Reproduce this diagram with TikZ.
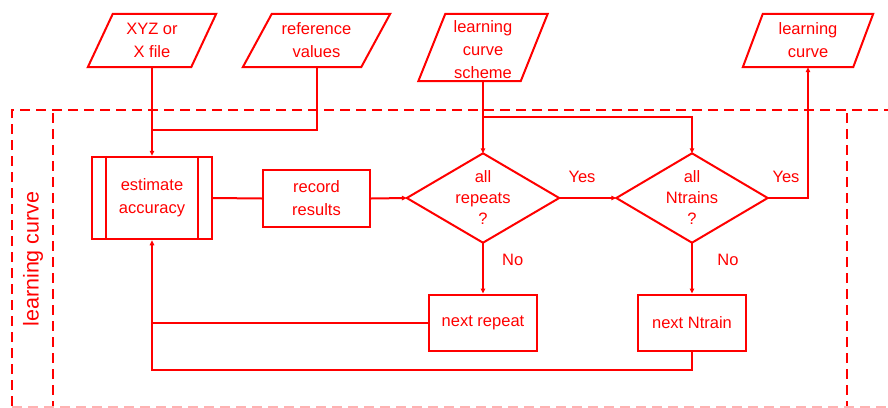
\documentclass[tikz,border=0pt]{standalone}
\usepackage{fontspec}
\setmainfont{Liberation Sans}
\usetikzlibrary{arrows.meta,calc}
\definecolor{fc}{RGB}{255,0,0}
\newcommand\parashape[2]{\draw[ln] ([xshift=#2]#1.north west) -- ([xshift=#2]#1.north east) -- ([xshift=-#2]#1.south east) -- ([xshift=-#2]#1.south west) -- cycle;}
\newcommand\diamondshape[1]{\draw[ln] (#1.north) -- (#1.east) -- (#1.south) -- (#1.west) -- cycle;}
\begin{document}
\begin{tikzpicture}[x=1pt,y=-1pt,
  every node/.style={text=fc, font=\fontsize{16.5}{23}\selectfont, align=center, inner sep=0pt},
  ln/.style={draw=fc, line width=2pt, line join=miter},
  conn/.style={draw=fc, line width=2pt},
  arr/.style={conn, -{Triangle[length=5pt,width=4.5pt]}},
  dbox/.style={draw=fc, line width=2pt, dash pattern=on 10pt off 6pt},
  lbl/.style={text=fc, font=\fontsize{16.5}{20}\selectfont},
  dtext/.style={font=\fontsize{16.5}{21}\selectfont}
]
\useasboundingbox (0,0) rectangle (888,407);
% dashed boxes
\begin{scope}
\clip (0,0) rectangle (888,407);
\draw[dbox] (12,406) -- (12,110) -- (900,110);
\draw[dbox] (53,113) -- (53,406);
\draw[dbox] (847,113) -- (847,406);
\draw[dbox, draw=fc!30] (12,406.5) -- (900,406.5);
\end{scope}
\node[rotate=90, font=\fontsize{21.5}{24}\selectfont] (lc) at (33,259) {learning curve};

% inputs / outputs
\node[minimum width=103pt, minimum height=53pt] (xyz) at (152,40.5) {XYZ or\\X file};
\parashape{xyz}{12.5pt}
\node[minimum width=118pt, minimum height=53pt] (ref) at (316.5,40.5) {reference\\values};
\parashape{ref}{14.5pt}
\node[minimum width=102pt, minimum height=67pt] (sch) at (483,47.5) {};
\parashape{sch}{13.5pt}
\node (schtxt) at (483,49.5) {learning\\curve\\scheme};
\node[minimum width=110pt, minimum height=53pt] (out) at (808,40.5) {learning\\curve};
\parashape{out}{10pt}

% process boxes
\node[ln, draw, minimum width=119.5pt, minimum height=82.5pt] (est) at (152,198) {estimate\\accuracy};
\draw[ln] ([xshift=15pt]est.north west) -- ([xshift=15pt]est.south west);
\draw[ln] ([xshift=-15pt]est.north east) -- ([xshift=-15pt]est.south east);
\node[ln, draw, minimum width=107pt, minimum height=56.5pt] (rec) at (316.5,198.5) {record\\results};

% decisions
\node[minimum width=152pt, minimum height=89pt] (rep) at (483,198) {};
\diamondshape{rep}
\node[dtext] (reptxt) at (483,198) {all\\repeats\\?};
\node[minimum width=151pt, minimum height=89pt] (ntr) at (692,198) {};
\diamondshape{ntr}
\node[dtext] (ntrtxt) at (692,198) {all\\Ntrains\\?};

\node[ln, draw, minimum width=108pt, minimum height=56pt] (nrep) at (483,322.5) {next repeat};
\node[ln, draw, minimum width=108pt, minimum height=56pt] (ntrn) at (692,322.5) {next Ntrain};

% coordinates
\coordinate (mergeA) at (152,130);
\coordinate (branchB) at (483,116.7);
\coordinate (loopD) at (152,370);

% connectors
\draw[arr] (xyz.south) -- (est.north);
\draw[conn] (ref.south) |- (mergeA);
\draw[arr] (sch.south) -- (rep.north);
\draw[arr] (branchB) -| (ntr.north);
\draw[conn] (est.east) -- (rec.west);
\draw[arr] (rec.east) -- (rep.west);
\draw[arr] (rep.east) -- (ntr.west);
\node[lbl] (yes1) at (582,177) {Yes};
\draw[arr] (ntr.east) -| (out.south);
\node[lbl] (yes2) at (786,177) {Yes};
\draw[arr] (rep.south) -- (nrep.north);
\node[lbl] (no1) at (512.7,260) {No};
\draw[arr] (ntr.south) -- (ntrn.north);
\node[lbl] (no2) at (728,260) {No};
\draw[conn] (nrep.west) -- (nrep.west -| est.south);
\draw[arr] (ntrn.south) |- (loopD) -- (est.south);
\end{tikzpicture}
\end{document}
